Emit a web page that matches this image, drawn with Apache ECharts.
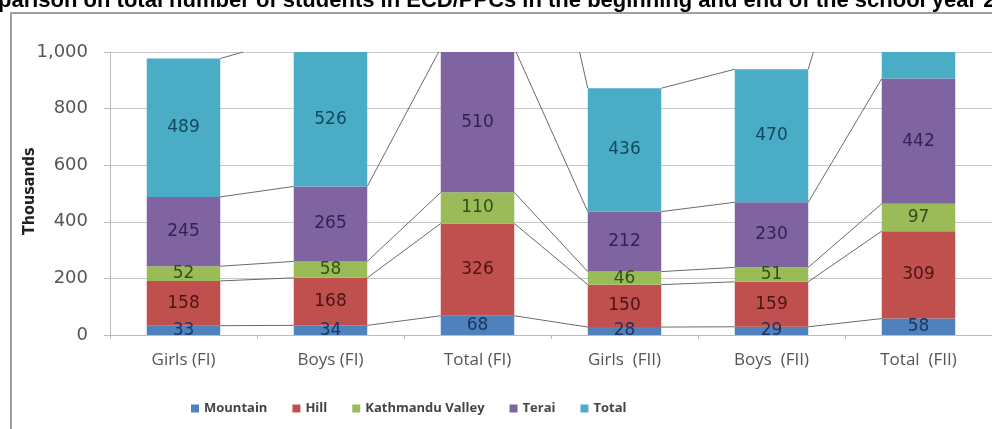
<!DOCTYPE html>
<html>
<head>
<meta charset="utf-8">
<script src="https://cdn.jsdelivr.net/npm/echarts@6/dist/echarts.min.js"></script>
<style>
  html, body { margin: 0; padding: 0; background: #fff; }
  #chart { width: 992px; height: 429px; }
</style>
</head>
<body>
<div id="chart"></div>
<script>
// categories and values (thousands)
const categories = ['Girls (FI)', 'Boys (FI)', 'Total (FI)', 'Girls  (FII)', 'Boys  (FII)', 'Total  (FII)']
const mountain = [33, 34, 68, 28, 29, 58]
const hill = [158, 168, 326, 150, 159, 309]
const kathmandu = [52, 58, 110, 46, 51, 97]
const terai = [245, 265, 510, 212, 230, 442]
const total = [489, 526, 1015, 436, 470, 906]
const seriesNames = ['Mountain', 'Hill', 'Kathmandu Valley', 'Terai', 'Total']
const yTicks = [0, 200, 400, 600, 800, 1000]

const chart = echarts.init(document.getElementById('chart'))

const all = [mountain, hill, kathmandu, terai, total]
const colors = ['#4F81BD', '#C0504D', '#9BBB59', '#8064A2', '#4BACC6']
const labelColors = ['#1c3560', '#4a1414', '#30501a', '#35214f', '#0f4a5c']

// running tops of each segment, for the series lines
const tops = []
all.forEach((arr, s) => {
  tops.push(arr.map((v, i) => (s > 0 ? tops[s - 1][i] : 0) + v))
})
const lineData = []
tops.forEach((row) => {
  for (let i = 0; i < row.length - 1; i++) lineData.push([i, row[i], row[i + 1]])
})

const yMax = yTicks[yTicks.length - 1]

const barSeries = all.map((arr, s) => ({
  name: seriesNames[s],
  type: 'bar',
  stack: 'all',
  barWidth: '50%',
  itemStyle: { color: colors[s] },
  label: {
    show: true,
    position: 'inside',
    color: labelColors[s],
    fontFamily: 'DejaVu Sans',
    fontSize: 17,
  },
  // segments that sit past the top of the axis have no label in the picture
  data: arr.map((v, i) => (tops[s][i] - v / 2 > yMax ? { value: v, label: { show: false } } : v)),
}))

chart.setOption({
  animation: false,
  graphic: [
    {
      type: 'text',
      left: -2,
      top: -10,
      z: 10,
      style: {
        text: 'parison on total number of students in ECD/PPCs in the beginning and end of the school year 20',
        font: 'bold 22px "Liberation Sans", Arial',
        fill: '#000',
      },
    },
    {
      type: 'polyline',
      z: 10,
      shape: { points: [[11, 440], [11, 13], [1000, 13]] },
      style: { fill: null, stroke: '#a0a0a0', lineWidth: 2 },
    },
    {
      type: 'text',
      z: 10,
      x: 22,
      y: 235,
      rotation: Math.PI / 2,
      style: {
        text: 'Thousands',
        font: 'bold 16px "Liberation Sans Narrow", "DejaVu Sans Condensed"',
        fill: '#222',
      },
    },
  ],
  legend: {
    left: 186,
    top: 397,
    itemWidth: 8,
    itemHeight: 8,
    itemGap: 25,
    icon: 'rect',
    textStyle: { fontFamily: '"Open Sans"', fontWeight: 'bold', fontSize: 13, color: '#444' },
    data: seriesNames,
  },
  grid: { left: 110, top: 52, width: 897, bottom: 94 },
  xAxis: {
    type: 'category',
    data: categories,
    axisLine: { lineStyle: { color: '#bbb' } },
    axisTick: { show: true, length: 4, lineStyle: { color: '#bbb' } },
    axisLabel: { color: '#555', fontFamily: '"Open Sans"', fontSize: 17, margin: 17 },
  },
  yAxis: {
    type: 'value',
    min: 0,
    max: yMax,
    interval: 200,
    axisLine: { show: true, lineStyle: { color: '#bbb' } },
    axisTick: { show: true, length: 6, lineStyle: { color: '#bbb' } },
    splitLine: { lineStyle: { color: '#c8c8c8' } },
    axisLabel: {
      color: '#555',
      fontFamily: 'DejaVu Sans',
      fontSize: 18,
      margin: 22,
      formatter: (v) => v.toLocaleString('en-US'),
    },
  },
  series: [
    ...barSeries,
    {
      type: 'custom',
      silent: true,
      z: 3,
      data: lineData,
      renderItem(params, api) {
        const i = api.value(0)
        const half = api.size([1, 0])[0] * 0.25
        const p1 = api.coord([i, api.value(1)])
        const p2 = api.coord([i + 1, api.value(2)])
        let x1 = p1[0] + half, y1 = p1[1]
        let x2 = p2[0] - half, y2 = p2[1]
        const top = params.coordSys.y
        if (y1 < top && y2 < top) return null
        if (y1 < top) { x1 = x1 + (x2 - x1) * (top - y1) / (y2 - y1); y1 = top }
        if (y2 < top) { x2 = x1 + (x2 - x1) * (top - y1) / (y2 - y1); y2 = top }
        return {
          type: 'line',
          shape: { x1, y1, x2, y2 },
          style: { stroke: '#6a6a6a', lineWidth: 1 },
        }
      },
    },
  ],
})
</script>
</body>
</html>
